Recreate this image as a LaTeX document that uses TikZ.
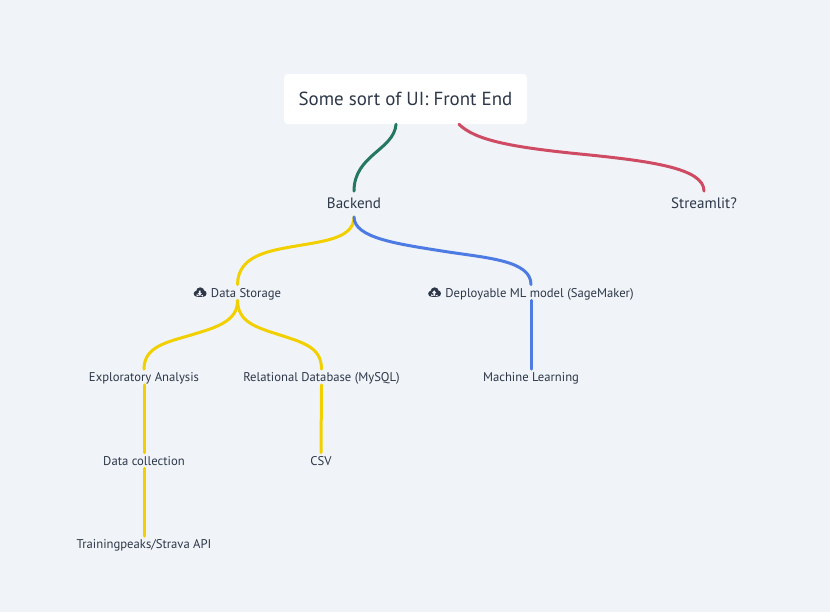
\documentclass[tikz,border=0pt]{standalone}
\usepackage{fontspec}
\setmainfont{PT Sans}
\definecolor{bgc}{HTML}{F0F4F8}
\definecolor{ink}{HTML}{2D3748}
\definecolor{cgreen}{HTML}{23785F}
\definecolor{cred}{HTML}{CF4A63}
\definecolor{cyellow}{HTML}{F2D000}
\definecolor{cblue}{HTML}{4D7BE3}
\tikzset{
  rootbox/.style={fill=white,rounded corners=3pt,minimum width=182.25pt,minimum height=37.5pt,inner sep=0pt,text=ink,font=\fontsize{14.2}{17}\selectfont},
  midlabel/.style={inner sep=0pt,minimum height=19pt,text height=8.5pt,text depth=2.5pt,text=ink,font=\fontsize{11.3}{13}\selectfont},
  smalllabel/.style={inner sep=0pt,minimum height=11.5pt,text height=8pt,text depth=1.2pt,text=ink,font=\fontsize{9.5}{11}\selectfont},
  link/.style={line width=2.25pt,line cap=round},
  pics/cloudicon/.style={code={
    \fill[ink] (-3,1.2) circle[radius=3] (0.5,-1) circle[radius=4.2] (3.5,1) circle[radius=3.3] (-3,1) rectangle (3.5,4.3);
    \fill[bgc] #1;
  }}
}
\begin{document}
\begin{tikzpicture}[x=0.75pt,y=-0.75pt]
\useasboundingbox (0,0) rectangle (830,612);
\fill[bgc] (0,0) rectangle (830,612);
\node[rootbox] (root) at (405.5,99) {Some sort of UI: Front End};
\node[midlabel] (backend) at (354,204) {Backend};
\node[midlabel] (streamlit) at (704,204) {Streamlit?};
\node[smalllabel] (storage) at (237.5,292.5) {\hspace{12.75pt}Data Storage};
\node[smalllabel] (deploy) at (531,292.5) {\hspace{12.75pt}Deployable ML model (SageMaker)};
\node[smalllabel] (explore) at (144,377) {Exploratory Analysis};
\node[smalllabel] (relational) at (321.5,377) {Relational Database (MySQL)};
\node[smalllabel] (ml) at (531,377) {Machine Learning};
\node[smalllabel] (collect) at (144,460.5) {Data collection};
\node[smalllabel] (csv) at (321,460.5) {CSV};
\node[smalllabel] (strava) at (144,544) {Trainingpeaks/Strava API};
\pic at ([xshift=4.5pt]storage.west) {cloudicon={(-2.2,0.5) -- (2.2,0.5) -- (0,3.2) -- cycle (-0.9,-2) rectangle (0.9,0.5)}};
\pic at ([xshift=4.5pt]deploy.west) {cloudicon={(-2.2,0.5) -- (2.2,0.5) -- (0,-2.2) -- cycle (-0.9,3) rectangle (0.9,0.5)}};
\draw[link,cgreen] ([xshift=-7.1pt]root.south) .. controls (394,150) and (354,155) .. (backend.north);
\draw[link,cred] ([xshift=40.1pt]root.south) .. controls (475,140) and (510,147) .. (580,154) .. controls (650,161) and (704,168) .. (streamlit.north);
\draw[link,cyellow] (backend.south) .. controls (354,238) and (325,241) .. (296,246) .. controls (267,251) and (238,256) .. (storage.north);
\draw[link,cblue] (backend.south) .. controls (354,238) and (398,244) .. (442,251) .. controls (486,258) and (531,260) .. (deploy.north);
\draw[link,cblue] (deploy.south) -- (ml.north);
\draw[link,cyellow] (storage.south) .. controls (238,322) and (214,328) .. (191,335) .. controls (168,342) and (144,346) .. (explore.north);
\draw[link,cyellow] (storage.south) .. controls (238,322) and (255,327) .. (280,335) .. controls (305,343) and (321.5,348) .. (relational.north);
\draw[link,cyellow] (explore.south) -- (collect.north);
\draw[link,cyellow] (collect.south) -- (strava.north);
\draw[link,cyellow] (relational.south) -- (csv.north);
\end{tikzpicture}
\end{document}
